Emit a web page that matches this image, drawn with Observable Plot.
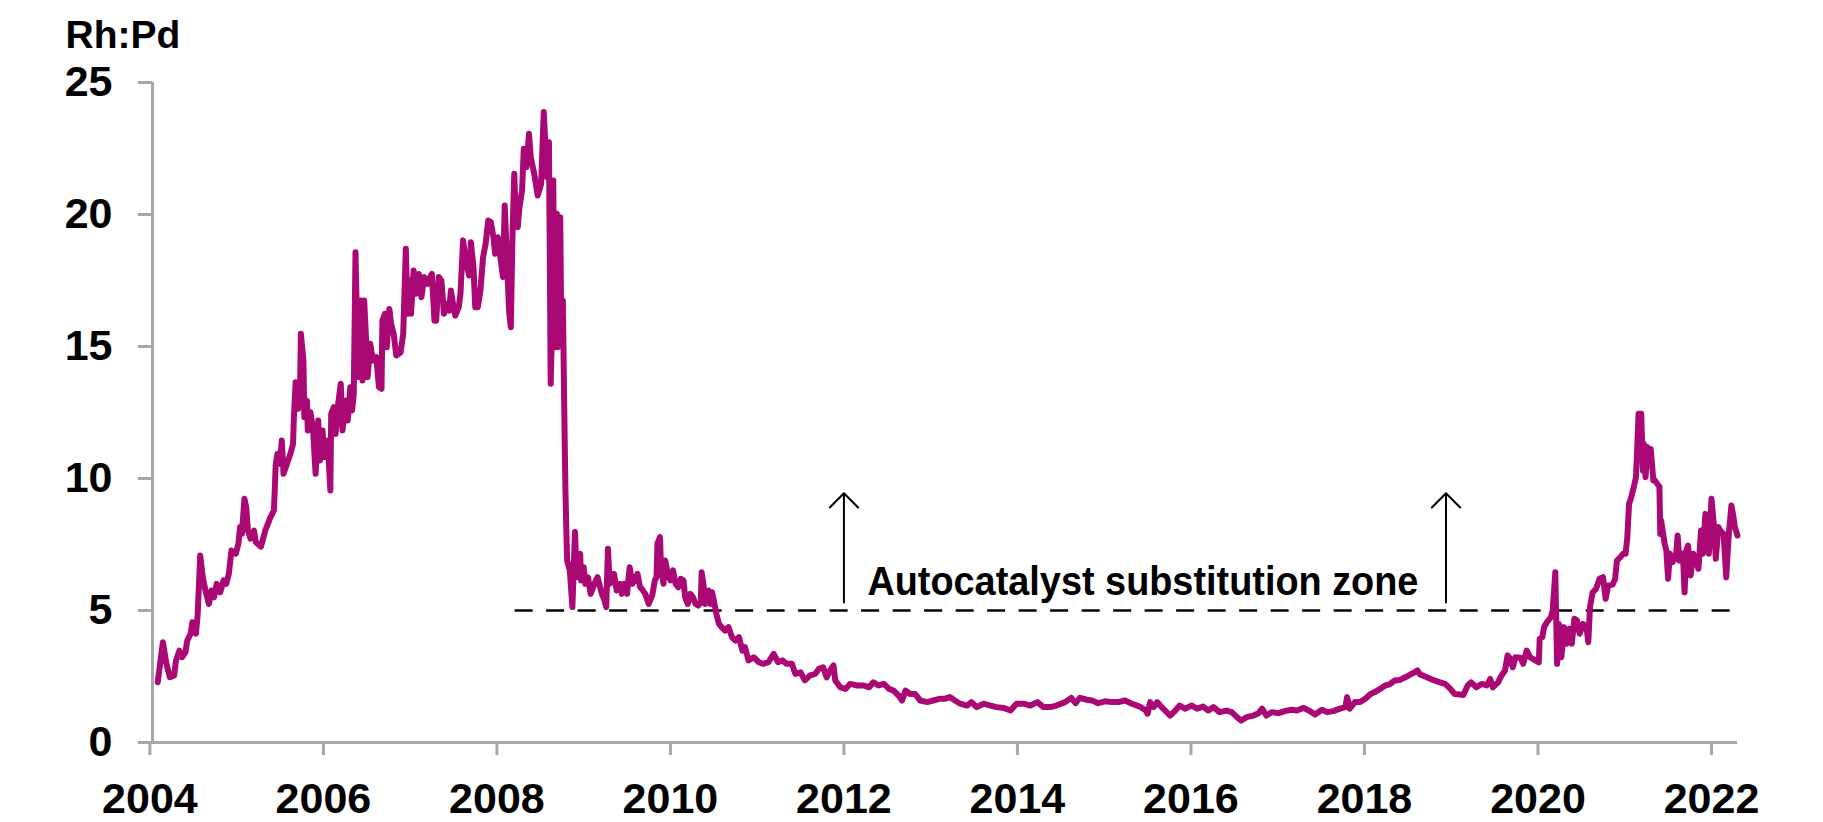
<!DOCTYPE html>
<html><head><meta charset="utf-8">
<script src="https://cdn.jsdelivr.net/npm/d3@7"></script>
<script src="https://cdn.jsdelivr.net/npm/@observablehq/plot@0.6"></script>
<style>html,body{margin:0;padding:0;background:#fff;}</style>
</head><body><div id="chart"></div>
<script>
// Rh:Pd price ratio (decimal years)
const years = [
2004.09,2004.15,2004.19,2004.23,2004.28,2004.30,2004.34,2004.37,2004.41,2004.43,2004.47,2004.49,2004.53,2004.55,2004.58,2004.61,2004.64,2004.68,2004.71,2004.74,2004.77,2004.81,2004.85,2004.88,2004.91,2004.94,2004.99,2005.02,2005.04,2005.06,2005.09,2005.11,2005.13,2005.16,2005.20,2005.22,2005.28,2005.33,2005.39,2005.43,
2005.45,2005.47,2005.50,2005.52,2005.54,2005.58,2005.62,2005.65,2005.66,2005.68,2005.71,2005.73,2005.74,2005.77,2005.78,2005.81,2005.82,2005.85,2005.88,2005.91,2005.94,2005.96,2005.99,2006.01,2006.05,2006.08,2006.09,2006.12,2006.14,2006.17,2006.20,2006.22,2006.26,2006.28,2006.31,2006.33,2006.35,2006.37,2006.40,2006.43,2006.45,2006.47,2006.50,2006.51,2006.54,2006.57,2006.61,2006.64,2006.67,2006.68,2006.71,2006.73,2006.76,2006.78,2006.81,2006.84,2006.89,2006.92,2006.95,2006.97,
2007.00,2007.01,2007.04,2007.07,2007.10,2007.13,2007.16,2007.20,2007.23,2007.25,2007.28,2007.30,2007.33,2007.36,2007.39,2007.42,2007.45,2007.47,2007.50,2007.52,2007.56,2007.58,2007.61,2007.64,2007.68,2007.70,2007.73,2007.75,2007.78,2007.81,2007.84,2007.87,2007.90,2007.93,2007.96,2007.98,
2008.01,2008.04,2008.07,2008.09,2008.11,2008.14,2008.16,2008.18,2008.20,2008.22,2008.24,2008.26,2008.29,2008.31,2008.34,2008.37,2008.39,2008.43,2008.47,2008.51,2008.54,2008.56,2008.58,2008.60,2008.62,2008.64,2008.65,2008.66,2008.69,2008.70,2008.73,2008.74,2008.76,2008.78,2008.79,2008.80,2008.81,2008.84,2008.87,2008.89,2008.90,2008.92,2008.96,2008.97,
2009.00,2009.02,2009.05,2009.08,2009.11,2009.14,2009.16,2009.19,2009.21,2009.24,2009.26,2009.28,2009.30,2009.33,2009.35,2009.38,2009.42,2009.44,2009.47,2009.50,2009.53,2009.56,2009.59,2009.62,2009.65,2009.67,2009.71,2009.75,2009.79,2009.82,2009.84,2009.85,2009.88,2009.89,2009.92,2009.94,2009.97,
2010.00,2010.03,2010.06,2010.09,2010.12,2010.15,2010.17,2010.20,2010.23,2010.26,2010.29,2010.32,2010.35,2010.36,2010.38,2010.40,2010.42,2010.44,2010.46,2010.48,2010.50,2010.53,2010.56,2010.59,2010.63,2010.67,2010.71,2010.75,2010.79,2010.83,2010.86,2010.90,2010.96,
2011.02,2011.07,2011.13,2011.19,2011.24,2011.29,2011.34,2011.40,2011.44,2011.50,2011.55,2011.61,2011.67,2011.71,2011.76,2011.80,2011.84,2011.88,2011.90,2011.96,
2012.02,2012.07,2012.15,2012.23,2012.29,2012.34,2012.40,2012.46,2012.52,2012.57,2012.63,2012.67,2012.71,2012.76,2012.82,2012.88,2012.96,
2013.03,2013.11,2013.17,2013.22,2013.28,2013.34,2013.42,2013.47,2013.53,2013.61,2013.69,2013.76,2013.84,2013.92,2013.99,
2014.07,2014.15,2014.23,2014.30,2014.38,2014.45,2014.55,2014.62,2014.67,2014.72,2014.80,2014.86,2014.93,
2015.01,2015.09,2015.16,2015.24,2015.32,2015.41,2015.48,2015.50,2015.53,2015.57,2015.61,2015.68,2015.76,2015.82,2015.87,2015.93,
2016.01,2016.07,2016.14,2016.20,2016.26,2016.33,2016.41,2016.47,2016.53,2016.58,2016.64,2016.72,2016.78,2016.82,2016.87,2016.93,
2017.01,2017.08,2017.16,2017.22,2017.30,2017.37,2017.43,2017.51,2017.57,2017.64,2017.72,2017.78,2017.80,2017.83,2017.89,2017.95,
2018.01,2018.07,2018.12,2018.18,2018.24,2018.29,2018.35,2018.41,2018.47,2018.53,2018.58,2018.61,2018.64,2018.72,2018.79,2018.87,2018.93,2018.99,
2019.04,2019.10,2019.14,2019.19,2019.23,2019.29,2019.35,2019.41,2019.45,2019.48,2019.54,2019.58,2019.62,2019.65,2019.68,2019.71,2019.74,2019.80,2019.83,2019.87,2019.91,2019.97,
2020.01,2020.02,2020.05,2020.07,2020.11,2020.15,2020.17,2020.20,2020.22,2020.24,2020.27,2020.30,2020.33,2020.36,2020.39,2020.42,2020.45,2020.48,2020.52,2020.56,2020.58,2020.60,2020.63,2020.67,2020.71,2020.75,2020.78,2020.81,2020.86,2020.89,2020.91,2020.95,2020.98,
2021.01,2021.03,2021.05,2021.07,2021.10,2021.13,2021.16,2021.19,2021.21,2021.22,2021.24,2021.26,2021.29,2021.30,2021.33,2021.35,2021.39,2021.40,2021.41,2021.42,2021.46,2021.48,2021.50,2021.52,2021.55,2021.59,2021.61,2021.63,2021.67,2021.69,2021.71,2021.73,2021.76,2021.79,2021.82,2021.85,2021.88,2021.90,2021.93,2021.95,2021.97,
2022.00,2022.03,2022.05,2022.08,2022.10,2022.14,2022.17,2022.20,2022.23,2022.25,2022.27,2022.30
];
const ratios = [
2.28,3.80,2.98,2.47,2.54,3.10,3.48,3.23,3.42,3.86,4.12,4.56,4.12,4.81,7.08,6.26,5.76,5.25,5.76,5.50,6.01,5.69,6.14,6.01,6.39,7.27,7.15,7.53,8.16,7.90,9.23,8.91,8.03,7.72,8.03,7.59,7.42,8.03,8.54,8.79,
10.50,10.94,10.56,11.44,10.18,10.56,10.94,11.31,12.32,13.65,12.64,13.08,15.48,14.47,12.32,12.95,11.82,12.51,11.88,10.18,12.20,10.68,11.82,10.81,11.44,9.55,12.45,12.70,11.69,12.83,13.59,11.82,12.95,12.20,13.46,12.58,13.21,18.57,13.84,16.74,13.71,16.74,14.72,13.84,15.10,14.47,14.60,13.46,13.40,15.98,16.24,14.97,16.42,15.86,15.48,14.66,14.78,15.48,18.70,16.24,
17.50,16.24,17.88,17.00,17.75,16.87,17.63,17.37,17.63,17.75,15.98,15.98,17.63,17.50,16.24,16.62,16.36,17.12,16.49,16.17,16.49,17.00,19.02,18.26,17.69,18.95,18.00,16.49,16.49,17.12,18.38,18.89,19.77,19.71,19.14,18.51,
19.14,18.38,17.63,20.34,18.76,16.36,15.73,19.27,21.54,19.77,19.52,20.28,20.91,22.49,21.79,23.06,22.17,21.54,20.72,21.16,23.88,22.55,21.41,22.74,13.59,16.36,21.29,14.97,20.03,14.97,19.90,16.24,16.74,11.69,9.55,8.03,6.89,6.52,5.13,7.02,7.97,6.26,7.15,6.14,
6.64,6.01,6.26,5.63,5.88,6.14,6.26,5.88,5.63,5.38,5.13,7.34,6.01,6.26,6.39,5.76,6.01,5.63,6.01,5.63,6.64,6.01,6.14,6.39,5.88,5.82,5.63,5.25,5.57,6.14,6.26,7.53,7.78,6.77,6.01,6.89,6.39,
6.14,6.52,6.01,5.88,6.20,6.14,5.50,5.25,5.63,5.50,5.25,5.19,5.31,6.45,6.01,5.25,5.50,5.76,5.25,5.69,5.38,4.87,4.49,4.37,4.24,4.37,3.99,3.86,3.99,3.48,3.61,3.11,3.23,
3.04,2.98,3.04,3.36,3.04,3.11,2.98,2.98,2.60,2.66,2.35,2.54,2.60,2.79,2.85,2.47,2.73,2.92,2.35,2.09,
2.03,2.22,2.16,2.16,2.09,2.28,2.16,2.22,2.03,1.97,1.78,1.59,1.97,1.84,1.84,1.59,1.53,
1.59,1.66,1.66,1.72,1.59,1.47,1.40,1.53,1.34,1.47,1.40,1.34,1.31,1.21,1.47,
1.47,1.40,1.53,1.34,1.34,1.40,1.53,1.69,1.49,1.69,1.62,1.59,1.49,
1.56,1.53,1.53,1.59,1.47,1.36,1.21,1.09,1.53,1.34,1.53,1.28,1.02,1.21,1.40,1.28,
1.40,1.28,1.36,1.21,1.34,1.15,1.21,1.15,0.96,0.83,0.96,1.02,1.11,1.28,1.02,1.15,
1.11,1.19,1.24,1.21,1.31,1.19,1.06,1.24,1.15,1.19,1.28,1.34,1.72,1.28,1.53,1.53,
1.66,1.84,1.91,2.03,2.16,2.20,2.35,2.37,2.47,2.58,2.66,2.73,2.58,2.47,2.37,2.28,2.22,2.03,
1.84,1.82,1.80,2.16,2.28,2.09,2.22,2.16,2.41,2.09,2.28,2.54,2.73,3.30,3.17,2.85,3.23,3.21,2.98,3.48,3.23,3.11,
3.04,3.93,3.99,4.37,4.59,4.75,5.00,6.45,2.98,4.49,3.23,4.37,3.74,4.31,3.74,4.69,4.62,4.12,4.49,4.37,3.80,5.13,5.69,5.82,6.20,6.26,5.44,5.95,5.98,6.20,6.89,7.02,7.15,
7.15,7.78,9.04,9.23,9.61,10.05,12.45,12.45,10.30,11.31,10.05,11.19,10.68,11.12,9.92,9.92,9.73,9.70,7.90,8.41,7.53,7.27,6.20,7.15,6.83,7.02,7.84,6.89,7.15,5.69,7.27,7.46,6.33,7.15,6.89,6.58,8.03,7.15,8.66,8.03,7.15,
9.23,8.16,6.96,8.16,8.03,7.90,6.26,7.90,8.98,8.60,8.16,7.84
];
const xTicks = [2004,2006,2008,2010,2012,2014,2016,2018,2020,2022];
const yTicks = [0,5,10,15,20,25];
const xDomain = [2004.03, 2022.3];
const yDomain = [0, 25];
const axisTitle = ["Rh:Pd"];
const zoneLabel = ["Autocatalyst substitution zone"];
const zoneLabelX = [2015.446];
const zoneLabelY = [6.09];
const zoneThreshold = [5];
const zoneStart = 2008.21, zoneEnd = 2022.33;
const arrowYears = [2012.0, 2018.94];
const arrowFrom = 5.3, arrowTo = 9.44;

const data = years.map((t, i) => ({t, v: ratios[i]}));
const grey = "#a6a6a6";
const magenta = "#aa0874";

const chart = Plot.plot({
  width: 1823, height: 822,
  marginLeft: 152, marginRight: 86, marginTop: 82, marginBottom: 80,
  style: {background: "white", fontFamily: "'Liberation Sans', Arial, sans-serif", fontWeight: "bold", color: "black"},
  x: {domain: xDomain},
  y: {domain: yDomain},
  marks: [
    Plot.ruleX([xDomain[0]], {stroke: grey, strokeWidth: 3}),
    Plot.ruleY([0], {stroke: grey, strokeWidth: 3}),
    Plot.axisX({ticks: xTicks, tickSize: 13, tickPadding: 27, fontSize: 43, stroke: grey, strokeWidth: 3, fill: "black", tickFormat: d => String(d), label: null}),
    Plot.axisY({ticks: yTicks, tickSize: 14, tickPadding: 26, fontSize: 43, stroke: grey, strokeWidth: 3, fill: "black", tickFormat: d => String(d), label: null}),
    Plot.ruleY(zoneThreshold, {x1: zoneStart, x2: zoneEnd, stroke: "black", strokeWidth: 2.5, strokeDasharray: "18,13.5"}),
    Plot.line(data, {x: "t", y: "v", stroke: magenta, strokeWidth: 6, strokeLinejoin: "round", strokeLinecap: "round"}),
    Plot.arrow(arrowYears, {x: d => d, y1: arrowFrom, y2: arrowTo, stroke: "black", strokeWidth: 2, headLength: 15, headAngle: 90, bend: 0}),
    Plot.text(zoneLabel, {x: zoneLabelX, y: zoneLabelY, text: d => d, fontSize: 40, fontWeight: "bold", textAnchor: "middle", lineAnchor: "middle", fill: "black"}),
    Plot.text(axisTitle, {frameAnchor: "top-left", text: d => d, textAnchor: "start", lineAnchor: "top", dx: -87, dy: -62, fontSize: 39, fill: "black"})
  ]
});
d3.select(chart).selectAll("text").filter(function() { return this.textContent === zoneLabel[0]; })
  .attr("textLength", 551).attr("lengthAdjust", "spacingAndGlyphs");
document.getElementById("chart").appendChild(chart);
</script>
</body></html>
